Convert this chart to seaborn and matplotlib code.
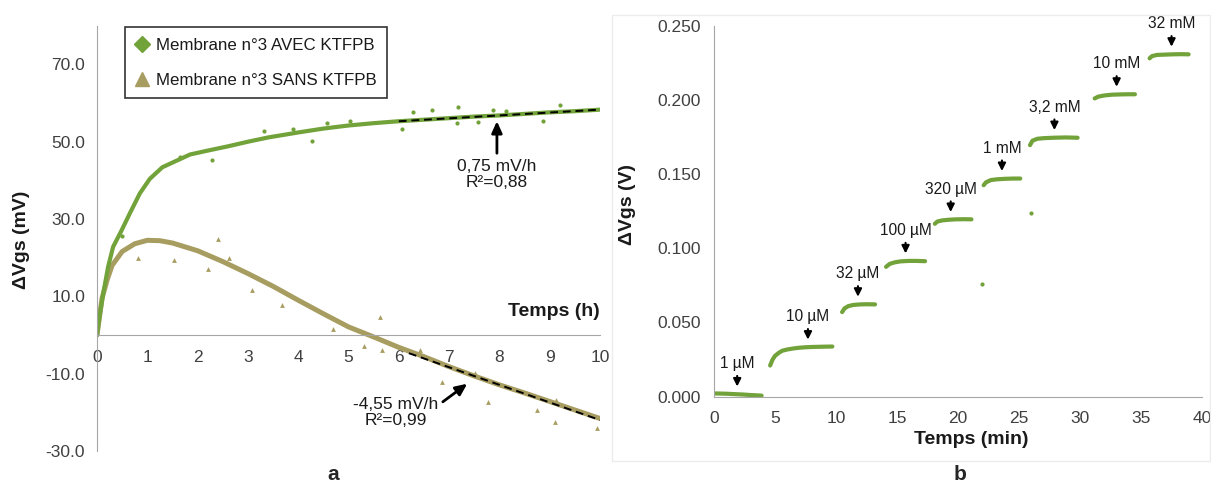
import numpy as np
import pandas as pd
import matplotlib
matplotlib.use("Agg")
import matplotlib.pyplot as plt
from matplotlib.ticker import MultipleLocator, FormatStrFormatter
from matplotlib.patches import Rectangle
import seaborn as sns

# ---- panel a : drift over 10 h ----
t_avec = [0, 0.06, 0.125, 0.22, 0.32, 0.49, 0.65, 0.85, 1.05, 1.3, 1.6, 1.85, 2.2, 2.6,
          3.0, 3.4, 4.0, 4.5, 5.0, 5.5, 6.0, 6.5, 7.0, 7.5, 8.0, 8.5, 9.0, 9.5, 10.0]
v_avec = [0, 5.6, 10.8, 17.6, 22.8, 27.1, 31.4, 36.6, 40.4, 43.4, 45.2, 46.7, 47.7, 48.8,
          50.0, 51.1, 52.4, 53.4, 54.2, 54.8, 55.3, 55.7, 56.1, 56.5, 56.8, 57.2, 57.6, 57.9, 58.3]
t_sans = [0, 0.1, 0.2, 0.3, 0.5, 0.75, 1.0, 1.25, 1.5, 1.75, 2.0, 2.5, 3.0, 3.5, 4.0,
          4.5, 5.0, 5.5, 6.0, 6.5, 7.0, 7.5, 8.0, 8.5, 9.0, 9.5, 10.0]
v_sans = [0, 9.5, 14.2, 18.0, 21.6, 23.6, 24.5, 24.4, 23.8, 22.8, 21.8, 19.0, 15.9, 12.6, 9.0,
          5.5, 2.1, -0.5, -3.2, -5.6, -8.2, -10.6, -12.9, -15.0, -17.2, -19.4, -21.6]

# stray points
t_avec_out = [0.5, 1.65, 2.28, 3.31, 3.9, 4.28, 4.57, 5.03, 6.06, 6.29, 6.65, 7.15, 7.18,
              7.58, 7.88, 8.14, 8.86, 9.2]
v_avec_out = [25.6, 46.0, 45.4, 52.7, 53.3, 50.1, 54.9, 55.3, 53.3, 57.6, 58.1, 54.9, 58.9,
              55.0, 58.1, 57.9, 55.3, 59.6]
t_sans_out = [0.82, 1.53, 2.21, 2.41, 2.63, 3.08, 3.67, 4.7, 5.3, 5.63, 5.66, 6.42, 6.85,
              7.52, 7.78, 8.75, 9.1, 9.12, 9.93]
v_sans_out = [20.0, 19.5, 17.0, 24.8, 20.0, 11.6, 7.7, 1.5, -2.8, 4.6, -4.0, -4.0, -12.2,
              -9.9, -17.2, -19.5, -22.5, -16.8, -24.0]

# linear fits (end points)
fit_avec_t = [6.0, 10.0]
fit_avec_v = [55.3, 58.3]
fit_sans_t = [6.2, 10.0]
fit_sans_v = [-4.7, -22.0]

# ---- panel b : calibration steps ----
steps_t = [
    [0, 0.5, 1, 1.5, 2, 2.5, 3, 3.5, 3.9],
    [4.6, 4.8, 5.0, 5.3, 5.6, 6.0, 6.5, 7.0, 7.5, 8.0, 8.5, 9.0, 9.7],
    [10.5, 10.7, 11.0, 11.4, 12.0, 12.5, 13.2],
    [14.1, 14.4, 14.8, 15.3, 16.0, 16.6, 17.3],
    [18.1, 18.3, 18.7, 19.2, 19.8, 20.5, 21.1],
    [22.1, 22.3, 22.7, 23.2, 23.8, 24.5, 25.1],
    [25.9, 26.1, 26.5, 27.0, 27.8, 28.8, 29.8],
    [31.2, 31.5, 32.0, 32.6, 33.3, 34.0, 34.5],
    [35.7, 35.9, 36.3, 36.9, 37.6, 38.3, 38.9],
]
steps_v = [
    [0.0022, 0.0021, 0.0020, 0.0018, 0.0016, 0.0014, 0.0011, 0.0009, 0.0007],
    [0.021, 0.025, 0.0275, 0.0295, 0.031, 0.0318, 0.0325, 0.033, 0.0333, 0.0335, 0.0336, 0.0337, 0.0338],
    [0.0570, 0.0595, 0.0610, 0.0618, 0.0622, 0.0623, 0.0622],
    [0.0875, 0.0895, 0.0905, 0.0912, 0.0915, 0.0915, 0.0913],
    [0.1165, 0.1180, 0.1188, 0.1192, 0.1195, 0.1196, 0.1195],
    [0.1425, 0.1445, 0.1460, 0.1465, 0.1468, 0.1470, 0.1470],
    [0.1695, 0.1725, 0.1738, 0.1742, 0.1745, 0.1747, 0.1745],
    [0.2010, 0.2022, 0.2030, 0.2035, 0.2037, 0.2038, 0.2038],
    [0.2280, 0.2295, 0.2303, 0.2305, 0.2307, 0.2308, 0.2307],
]
b_out_t = [22.0, 25.95]
b_out_v = [0.0758, 0.1240]

conc_labels = ["1 µM", "10 µM", "32 µM", "100 µM", "320 µM", "1 mM", "3,2 mM", "10 mM", "32 mM"]
conc_t = [1.9, 7.7, 11.8, 15.7, 19.4, 23.6, 27.9, 33.0, 37.5]
conc_v = [0.0017, 0.0333, 0.0622, 0.0914, 0.1193, 0.1469, 0.1745, 0.2037, 0.2307]

GREEN = "#72a23a"
TAN = "#a89d60"
AXC = "#a6a6a6"
TXT = "#404040"

sns.set_style("white")
plt.rcParams["font.family"] = ["Liberation Sans", "DejaVu Sans"]

fig = plt.figure(figsize=(12.11, 4.84), dpi=100)
ax_a = fig.add_axes([0.0801, 0.0682, 0.4154, 0.8786])
ax_b = fig.add_axes([0.5896, 0.1804, 0.4030, 0.7665])

# faint frame round panel b
fig.patches.append(Rectangle((612 / 1211, 23 / 484), 598 / 1211, 446 / 484,
                             transform=fig.transFigure, fill=False, ec="#ececec", lw=1))

# ---- panel a ----
sns.lineplot(x=t_sans, y=v_sans, ax=ax_a, color=TAN, lw=3.6, sort=False)
sns.lineplot(x=t_avec, y=v_avec, ax=ax_a, color=GREEN, lw=3.0, sort=False)
sns.scatterplot(x=t_sans_out, y=v_sans_out, ax=ax_a, color=TAN, marker="^", s=12, linewidth=0)
sns.scatterplot(x=t_avec_out, y=v_avec_out, ax=ax_a, color=GREEN, marker="o", s=9, linewidth=0)
ax_a.plot(fit_avec_t, fit_avec_v, color="black", lw=1.4, ls=(0, (4, 2.5)))
ax_a.plot(fit_sans_t, fit_sans_v, color="black", lw=1.4, ls=(0, (4, 2.5)))

ax_a.set_xlim(0, 10)
ax_a.set_ylim(-30, 80)
ax_a.spines["bottom"].set_position(("data", 0))
for s in ["top", "right"]:
    ax_a.spines[s].set_visible(False)
for s in ["left", "bottom"]:
    ax_a.spines[s].set_color(AXC)
ax_a.xaxis.set_major_locator(MultipleLocator(1))
ax_a.xaxis.set_minor_locator(MultipleLocator(0.2))
ax_a.yaxis.set_major_locator(MultipleLocator(20, offset=10))
ax_a.yaxis.set_minor_locator(MultipleLocator(4, offset=2))
ax_a.yaxis.set_major_formatter(FormatStrFormatter("%.1f"))
ax_a.tick_params(axis="x", which="major", direction="inout", length=7, color=AXC,
                 labelsize=12.5, labelcolor=TXT, pad=7)
ax_a.tick_params(axis="x", which="minor", direction="in", length=3.5, color=AXC)
ax_a.tick_params(axis="y", which="major", direction="out", length=4.5, color=AXC,
                 labelsize=12.5, labelcolor=TXT, pad=4)
ax_a.tick_params(axis="y", which="minor", direction="in", length=3, color=AXC)
ax_a.set_xlabel("")
ax_a.set_ylabel("ΔVgs (mV)", fontsize=14, fontweight="bold", color="#1a1a1a")
ax_a.yaxis.set_label_coords(-0.133, 0.496)
ax_a.text(10, 6.0, "Temps (h)", ha="right", va="center", fontsize=14,
          fontweight="bold", color="#1a1a1a")

ax_a.annotate("0,75 mV/h\nR²=0,88", xy=(7.95, 55.3), xytext=(7.95, 41.5),
              ha="center", va="center", fontsize=12.5, color="#1a1a1a", linespacing=1.05,
              arrowprops=dict(arrowstyle="-|>,head_width=0.25,head_length=0.55", lw=2,
                              color="black", relpos=(0.5, 1.0), shrinkA=2, shrinkB=0))
ax_a.annotate("-4,55 mV/h\nR²=0,99", xy=(7.36, -12.6), xytext=(5.94, -20.1),
              ha="center", va="center", fontsize=12.5, color="#1a1a1a", linespacing=1.05,
              arrowprops=dict(arrowstyle="-|>,head_width=0.25,head_length=0.55", lw=2,
                              color="black", relpos=(1.0, 0.75), shrinkA=1, shrinkB=0))

h1 = plt.Line2D([], [], color=GREEN, marker="D", ls="none", markersize=8)
h2 = plt.Line2D([], [], color=TAN, marker="^", ls="none", markersize=10)
leg = ax_a.legend([h1, h2], ["Membrane n°3 AVEC KTFPB", "Membrane n°3 SANS KTFPB"],
                  loc="upper left", bbox_to_anchor=(0.055, 0.996), fontsize=12.2,
                  frameon=True, fancybox=False, handlelength=0.9, handletextpad=0.35,
                  labelspacing=1.2, borderpad=0.6, borderaxespad=0)
leg.get_frame().set_edgecolor("black")
leg.get_frame().set_linewidth(1.2)
for t in leg.get_texts():
    t.set_color("#1a1a1a")

# ---- panel b ----
rows = []
for i, (ts, vs) in enumerate(zip(steps_t, steps_v)):
    for t, v in zip(ts, vs):
        rows.append({"t": t, "v": v, "step": i})
df_b = pd.DataFrame(rows)
sns.lineplot(data=df_b, x="t", y="v", units="step", estimator=None, ax=ax_b,
             color=GREEN, lw=3.0, sort=False)
sns.scatterplot(x=b_out_t, y=b_out_v, ax=ax_b, color=GREEN, s=9, linewidth=0)

for lab, t, v in zip(conc_labels, conc_t, conc_v):
    ax_b.annotate(lab, xy=(t, v), xycoords="data", xytext=(0, 16.5), textcoords="offset points",
                  ha="center", va="bottom", fontsize=11.2, color="#1a1a1a",
                  arrowprops=dict(arrowstyle="-|>,head_width=0.2,head_length=0.4", lw=1.5,
                                  color="black", shrinkA=1, shrinkB=5.5))

ax_b.set_xlim(0, 40)
ax_b.set_ylim(0, 0.25)
for s in ["top", "right"]:
    ax_b.spines[s].set_visible(False)
for s in ["left", "bottom"]:
    ax_b.spines[s].set_color(AXC)
ax_b.xaxis.set_major_locator(MultipleLocator(5))
ax_b.xaxis.set_minor_locator(MultipleLocator(1))
ax_b.yaxis.set_major_locator(MultipleLocator(0.05))
ax_b.yaxis.set_minor_locator(MultipleLocator(0.01))
ax_b.yaxis.set_major_formatter(FormatStrFormatter("%.3f"))
ax_b.tick_params(axis="x", which="major", direction="inout", length=7, color=AXC,
                 labelsize=12.5, labelcolor=TXT, pad=7)
ax_b.tick_params(axis="x", which="minor", direction="in", length=3.5, color=AXC)
ax_b.tick_params(axis="y", which="major", direction="out", length=4.5, color=AXC,
                 labelsize=12.5, labelcolor=TXT, pad=5)
ax_b.tick_params(axis="y", which="minor", direction="in", length=3, color=AXC)
ax_b.set_ylabel("ΔVgs (V)", fontsize=14, fontweight="bold", color="#1a1a1a")
ax_b.yaxis.set_label_coords(-0.160, 0.517)
ax_b.set_xlabel("Temps (min)", fontsize=14, fontweight="bold", color="#1a1a1a")
ax_b.xaxis.set_label_coords(0.528, -0.092)

fig.text(333 / 1211, 0.008, "a", ha="center", va="baseline", fontsize=15, fontweight="bold")
fig.text(960 / 1211, 0.008, "b", ha="center", va="baseline", fontsize=15, fontweight="bold")

fig.savefig("out.png", dpi=100)
